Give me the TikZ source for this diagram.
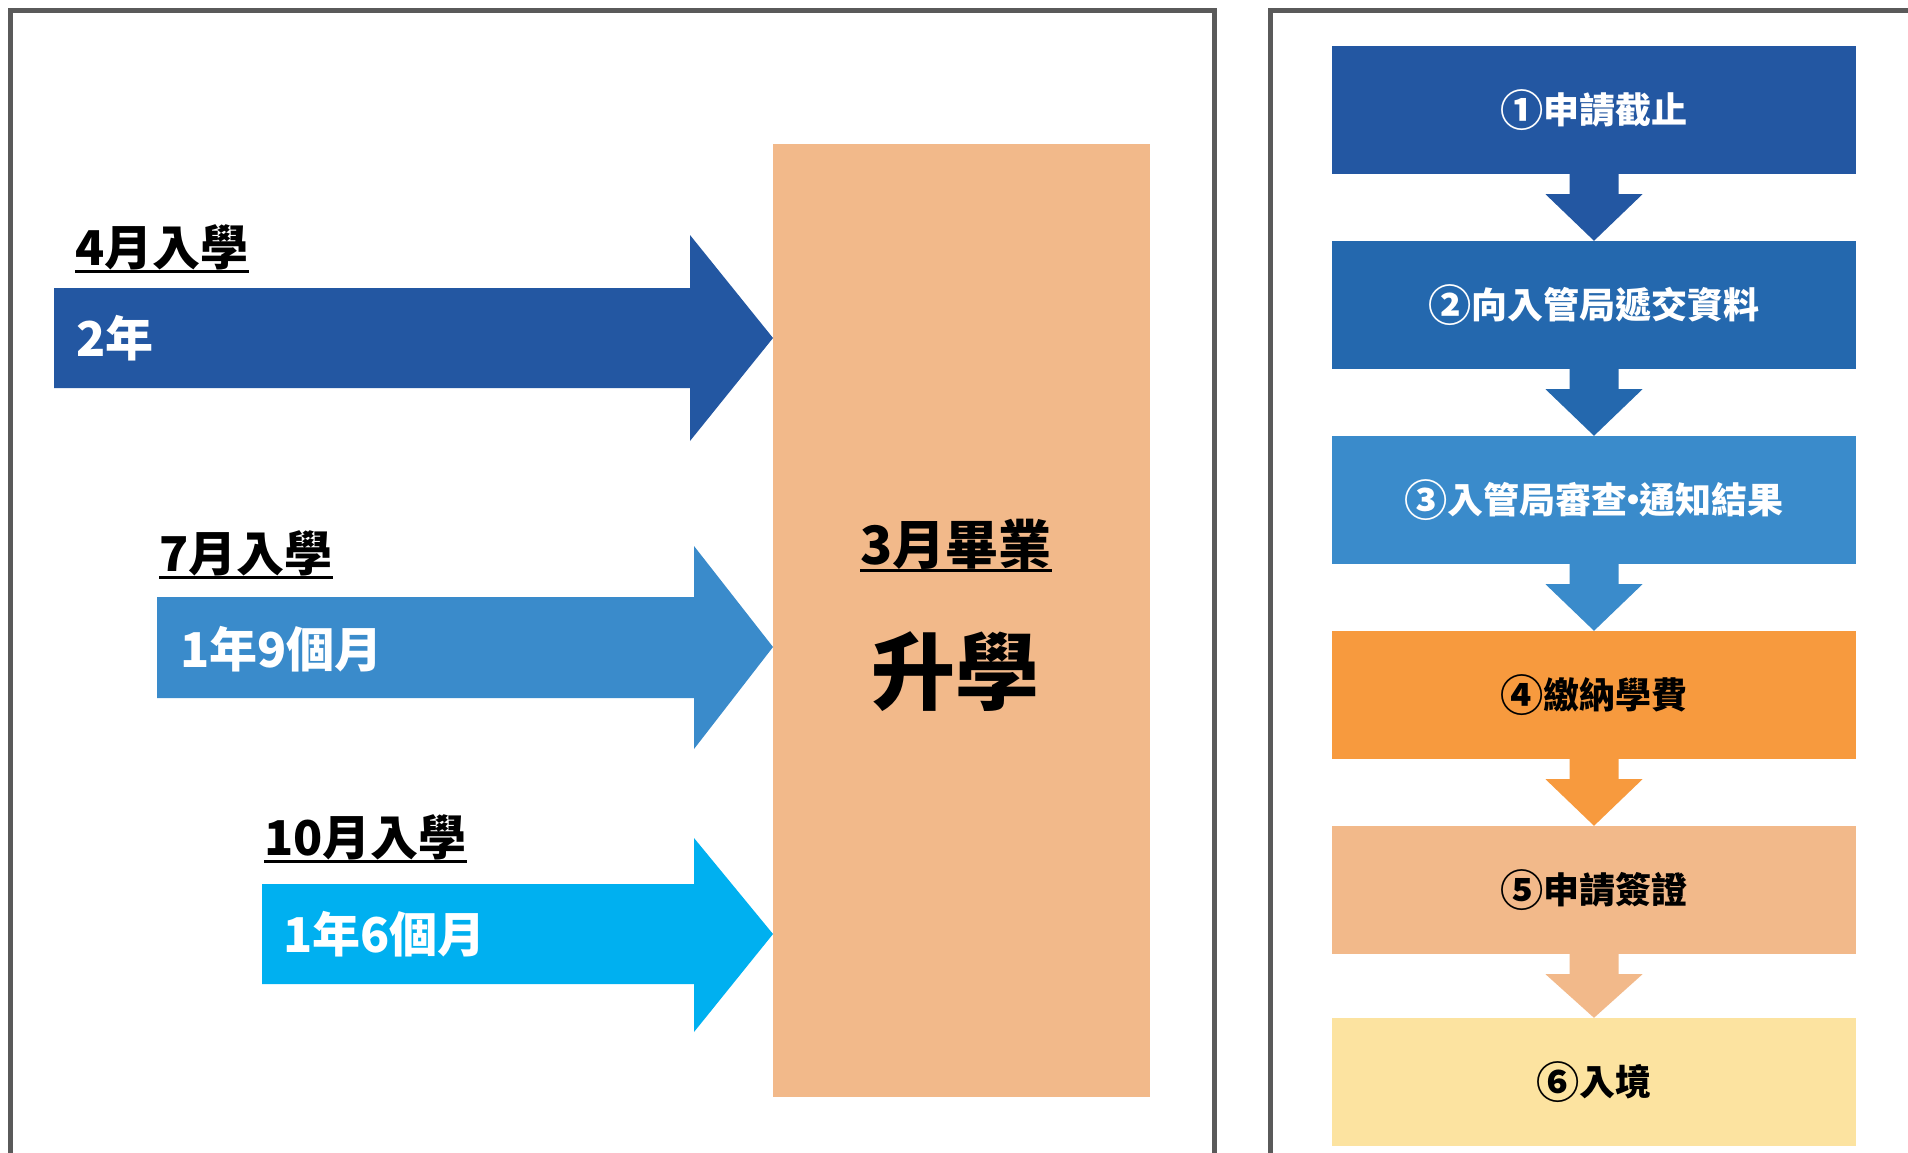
\documentclass[tikz,border=0pt]{standalone}
\usepackage{fontspec}
\setmainfont{Noto Sans CJK TC}
\usetikzlibrary{calc}
\definecolor{cA}{HTML}{2357A2}
\definecolor{cB}{HTML}{2468AE}
\definecolor{cC}{HTML}{3A8BCB}
\definecolor{cD}{HTML}{00B0F0}
\definecolor{cE}{HTML}{F79A3E}
\definecolor{cF}{HTML}{F2B98A}
\definecolor{cG}{HTML}{FCE3A0}
\definecolor{frameg}{HTML}{5A5A5A}
\newcommand\circnum[1]{\raisebox{-0.08em}{\scalebox{1.2}{#1}}}
\newcommand\middot{\hbox to 0.35em{\hss·\hss}}
\begin{document}
\begin{tikzpicture}[x=1pt,y=-1pt,
  frame/.style={draw=frameg,line width=5pt},
  lbl/.style={font=\fontsize{48}{54}\selectfont\bfseries,anchor=base west,inner sep=0pt},
  intxt/.style={font=\fontsize{48}{54}\selectfont\bfseries,text=white,anchor=west,inner sep=0pt},
  ulline/.style={line width=3pt},
  stepbox/.style={minimum width=524pt,minimum height=128pt,inner sep=0pt,
    font=\fontsize{36}{42}\selectfont\bfseries}]
\useasboundingbox (0,0) rectangle (1908,1152);
\fill[white] (0,0) rectangle (1908,1152);
% frames
\draw[frame] (10,1160) -- (10,10) -- (1214,10) -- (1214,1160);
\draw[frame] (1270,1160) -- (1270,10) -- (1915,10);
% graduation box
\node[fill=cF,minimum width=377pt,minimum height=953pt,inner sep=0pt,anchor=north west] (grad) at (773,144) {};
\node[font=\fontsize{53}{58}\selectfont\bfseries,anchor=base,inner sep=0pt] (g1) at (956,564) {3月畢業};
\draw[ulline] ([yshift=-6pt]g1.base west) -- ([yshift=-6pt]g1.base east);
\node[font=\fontsize{84}{92}\selectfont\bfseries,inner sep=0pt] (g2) at (955,672) {升學};
% arrow 1
\fill[cA] (54,288) -- (690,288) -- (690,235) -- (grad.west |- 0,338) -- (690,441) -- (690,388) -- (54,388) -- cycle;
\node[lbl] (l1) at (75,265) {4月入學};
\draw[ulline] ([yshift=-6pt]l1.base west) -- ([yshift=-6pt]l1.base east);
\node[intxt] (t1) at (76,338) {2年};
% arrow 2
\fill[cC] (157,597) -- (694,597) -- (694,546) -- (grad.west |- 0,647) -- (694,749) -- (694,698) -- (157,698) -- cycle;
\node[lbl] (l2) at (159,571) {7月入學};
\draw[ulline] ([yshift=-6pt]l2.base west) -- ([yshift=-6pt]l2.base east);
\node[intxt] (t2) at (180,649) {1年9個月};
% arrow 3
\fill[cD] (262,884) -- (694,884) -- (694,838) -- (grad.west |- 0,934) -- (694,1032) -- (694,984) -- (262,984) -- cycle;
\node[lbl] (l3) at (264,855) {10月入學};
\draw[ulline] ([yshift=-6pt]l3.base west) -- ([yshift=-6pt]l3.base east);
\node[intxt] (t3) at (283,934) {1年6個月};
% right flow
\node[stepbox,fill=cA,text=white] (b1) at (1594,110) {\circnum{①}申請截止};
\node[stepbox,fill=cB,text=white] (b2) at (1594,305) {\circnum{②}向入管局遞交資料};
\node[stepbox,fill=cC,text=white] (b3) at (1594,500) {\circnum{③}入管局審查\middot 通知結果};
\node[stepbox,fill=cE,text=black] (b4) at (1594,695) {\circnum{④}繳納學費};
\node[stepbox,fill=cF,text=black] (b5) at (1594,890) {\circnum{⑤}申請簽證};
\node[stepbox,fill=cG,text=black] (b6) at (1594,1082) {\circnum{⑥}入境};
\foreach \a/\b/\c in {b1/b2/cA,b2/b3/cB,b3/b4/cC,b4/b5/cE,b5/b6/cF}{
  \fill[\c] ($(\a.south)+(-24.5,0)$) -- ($(\a.south)+(24.5,0)$) -- ($(\a.south)+(24.5,20)$)
    -- ($(\a.south)+(48.5,20)$) -- (\b.north) -- ($(\a.south)+(-48.5,20)$)
    -- ($(\a.south)+(-24.5,20)$) -- cycle;
}
\end{tikzpicture}
\end{document}
